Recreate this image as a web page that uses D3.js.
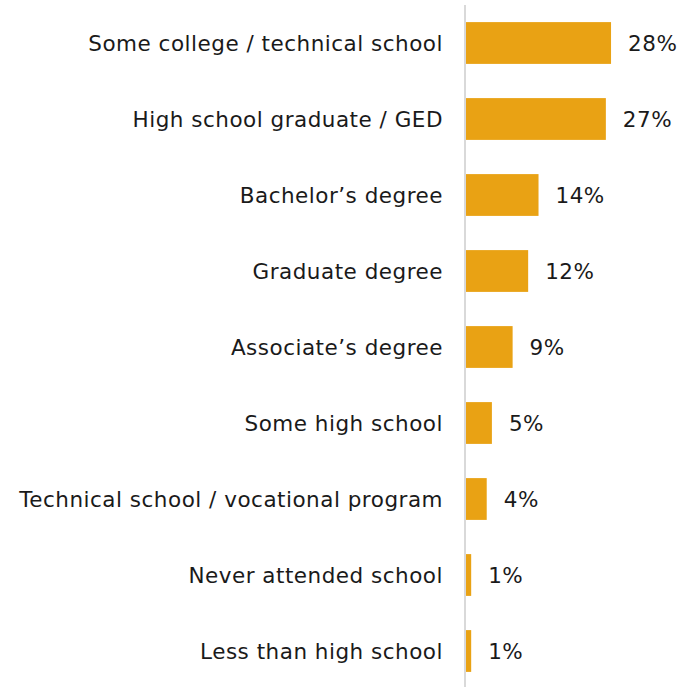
<!DOCTYPE html>
<html><head><meta charset="utf-8">
<script src="https://cdn.jsdelivr.net/npm/d3@7"></script>
<style>body{margin:0;background:#fff}svg{display:block}</style>
</head><body>
<script>
const categories = ["Some college / technical school","High school graduate / GED","Bachelor\u2019s degree","Graduate degree","Associate\u2019s degree","Some high school","Technical school / vocational program","Never attended school","Less than high school"];
const values = [28,27,14,12,9,5,4,1,1];
const valueLabels = ["28%","27%","14%","12%","9%","5%","4%","1%","1%"];

const W = 682, H = 687, x0 = 466;
const svg = d3.select("body").append("svg").attr("width", W).attr("height", H);
const x = d3.scaleLinear().domain([0, 30]).range([x0, x0 + 155.4]);
const y = d3.scaleBand().domain(categories).range([5, 689]).paddingInner(0.45).paddingOuter(0.225);

svg.append("line").attr("x1", x0 - 1).attr("x2", x0 - 1).attr("y1", 5).attr("y2", H)
  .attr("stroke", "#d9d9d9").attr("stroke-width", 2);

svg.selectAll("rect.bar").data(values).join("rect").attr("class", "bar")
  .attr("x", x(0)).attr("y", (d, i) => y(categories[i]))
  .attr("width", d => x(d) - x(0)).attr("height", y.bandwidth())
  .attr("fill", "#E9A214");

const font = "Verdana, 'DejaVu Sans', sans-serif";
const fs = 21.5, ls = 0.5;
svg.selectAll("text.cat").data(categories).join("text").attr("class", "cat")
  .attr("x", 443).attr("y", d => y(d) + y.bandwidth() / 2).attr("dy", "0.35em")
  .attr("text-anchor", "end").attr("font-family", font).attr("font-size", fs)
  .attr("letter-spacing", ls).attr("fill", "#1a1a1a").text(d => d);

svg.selectAll("text.val").data(values).join("text").attr("class", "val")
  .attr("x", d => x(d) + 17).attr("y", (d, i) => y(categories[i]) + y.bandwidth() / 2).attr("dy", "0.35em")
  .attr("font-family", font).attr("font-size", fs).attr("letter-spacing", ls)
  .attr("fill", "#1a1a1a").text((d, i) => valueLabels[i]);
</script>
</body></html>
